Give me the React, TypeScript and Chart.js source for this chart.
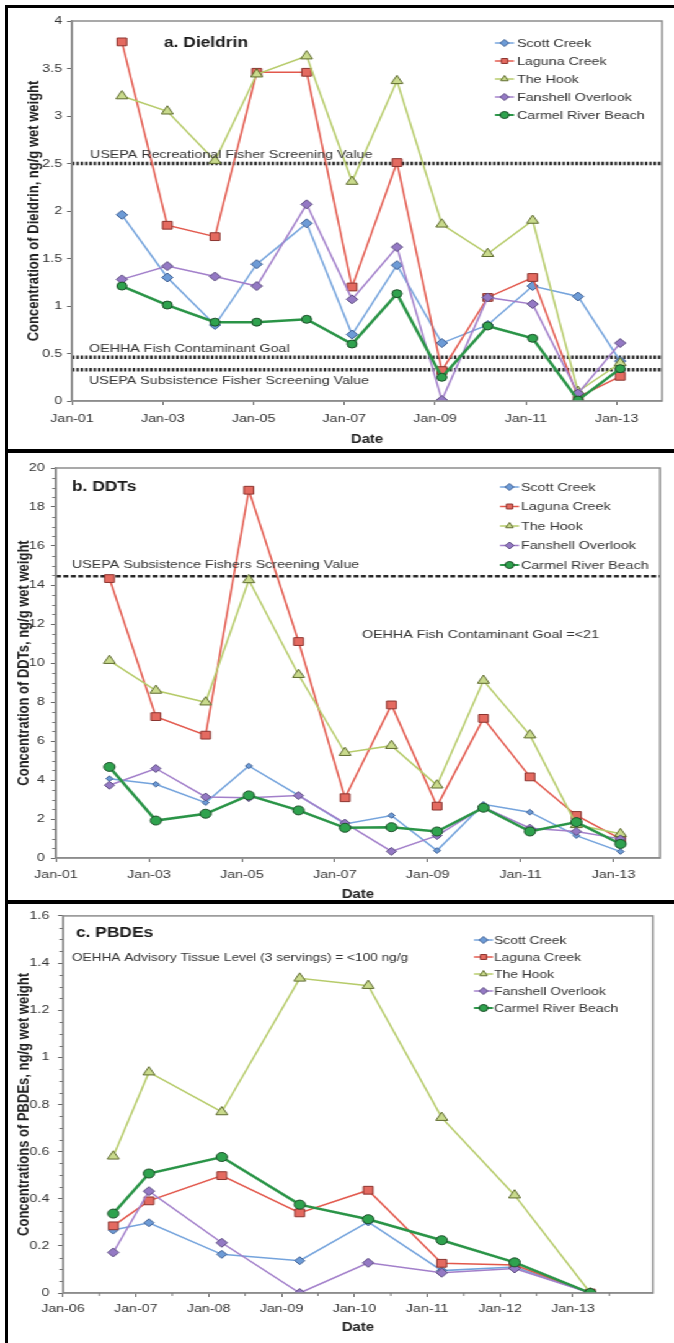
import React, { useEffect, useRef } from "react";
import { Chart, registerables } from "chart.js";

Chart.register(...registerables);

const STRETCH = 1.24;
const CANVAS_W = 544;
const FAMILY = "'Liberation Sans', Arial, Helvetica, sans-serif";

const siteNames = ["Scott Creek", "Laguna Creek", "The Hook", "Fanshell Overlook", "Carmel River Beach"];

// ---------- a. Dieldrin ----------
const dieldrinDates = [2002.1, 2003.1, 2004.15, 2005.07, 2006.17, 2007.17, 2008.16, 2009.15, 2010.16, 2011.15, 2012.15, 2013.08];
const dieldrinScott = [1.96, 1.3, 0.8, 1.44, 1.87, 0.7, 1.43, 0.61, 0.8, 1.21, 1.1, 0.42];
const dieldrinLaguna = [3.78, 1.85, 1.73, 3.46, 3.46, 1.2, 2.51, 0.32, 1.09, 1.3, 0.04, 0.26];
const dieldrinHook = [3.21, 3.05, 2.53, 3.44, 3.63, 2.31, 3.37, 1.86, 1.55, 1.9, 0.1, 0.4];
const dieldrinFanshell = [1.28, 1.42, 1.31, 1.21, 2.07, 1.07, 1.62, 0.01, 1.09, 1.02, 0.08, 0.61];
const dieldrinCarmel = [1.21, 1.01, 0.83, 0.83, 0.86, 0.6, 1.13, 0.25, 0.79, 0.66, 0.01, 0.34];
const dieldrinRefValues = [2.5, 0.46, 0.33];
const dieldrinRefLabels = [
  "USEPA Recreational Fisher Screening Value",
  "OEHHA Fish Contaminant Goal",
  "USEPA Subsistence Fisher Screening Value",
];
const dieldrinTickYears = [2001, 2003, 2005, 2007, 2009, 2011, 2013];

// ---------- b. DDTs ----------
const ddtDates = [2002.15, 2003.15, 2004.22, 2005.15, 2006.22, 2007.22, 2008.22, 2009.2, 2010.2, 2011.2, 2012.2, 2013.15];
const ddtScott = [4.07, 3.78, 2.84, 4.72, 3.21, 1.75, 2.18, 0.38, 2.75, 2.35, 1.15, 0.33];
const ddtLaguna = [14.33, 7.25, 6.3, 18.86, 11.1, 3.09, 7.85, 2.66, 7.16, 4.16, 2.18, 0.98];
const ddtHook = [10.12, 8.59, 7.99, 14.26, 9.4, 5.4, 5.76, 3.73, 9.1, 6.3, 1.7, 1.24];
const ddtFanshell = [3.73, 4.59, 3.13, 3.09, 3.2, 1.79, 0.34, 1.15, 2.61, 1.53, 1.36, 0.98];
const ddtCarmel = [4.67, 1.92, 2.27, 3.21, 2.44, 1.55, 1.58, 1.36, 2.58, 1.36, 1.84, 0.72];
const ddtRefValue = 14.45;
const ddtRefLabel = "USEPA Subsistence Fishers Screening Value";
const ddtGoalLabel = "OEHHA Fish Contaminant Goal =<21";
const ddtTickYears = [2001, 2003, 2005, 2007, 2009, 2011, 2013];

// ---------- c. PBDEs ----------
const pbdeDates = [2006.69, 2007.18, 2008.18, 2009.25, 2010.19, 2011.2, 2012.2, 2013.24];
const pbdeScott = [0.267, 0.298, 0.164, 0.137, 0.302, 0.095, 0.11, 0];
const pbdeLaguna = [0.285, 0.391, 0.498, 0.34, 0.436, 0.126, 0.119, 0];
const pbdeHook = [0.58, 0.937, 0.768, 1.335, 1.304, 0.744, 0.415, 0];
const pbdeFanshell = [0.172, 0.432, 0.213, 0, 0.128, 0.086, 0.104, 0];
const pbdeCarmel = [0.337, 0.507, 0.577, 0.375, 0.313, 0.224, 0.13, 0];
const pbdeNote = "OEHHA Advisory Tissue Level (3 servings) = <100 ng/g";
const pbdeTickYears = [2006, 2007, 2008, 2009, 2010, 2011, 2012, 2013];

// ---------- styles ----------
const STYLES = [
  { line: "#74a3dc", fill: "#6d9bd6", edge: "#3f5f93", shape: "rectRot", w: 1.5 },
  { line: "#e2584c", fill: "#e46a60", edge: "#8c3530", shape: "rect", w: 1.5 },
  { line: "#b6cb6a", fill: "#c9da8c", edge: "#5f6c30", shape: "triangle", w: 1.5 },
  { line: "#a27fca", fill: "#9479c4", edge: "#5c4c80", shape: "rectRot", w: 1.5 },
  { line: "#2a9447", fill: "#2fa24e", edge: "#1d4f2a", shape: "circle", w: 2.5 },
];

const tickLabel = (v: number) => "Jan-" + String(Math.round(v) % 100).padStart(2, "0");
const numLabel = (v: number) => String(parseFloat(Number(v).toFixed(3)));

function marker(ctx: CanvasRenderingContext2D, shape: string, x: number, y: number, r: number, fill: string, edge: string) {
  ctx.beginPath();
  if (shape === "rectRot") {
    ctx.moveTo(x, y - r);
    ctx.lineTo(x + r, y);
    ctx.lineTo(x, y + r);
    ctx.lineTo(x - r, y);
    ctx.closePath();
  } else if (shape === "rect") {
    const s = r * Math.SQRT1_2;
    ctx.rect(x - s, y - s, 2 * s, 2 * s);
  } else if (shape === "triangle") {
    ctx.moveTo(x, y - r);
    ctx.lineTo(x + 0.866 * r, y + 0.5 * r);
    ctx.lineTo(x - 0.866 * r, y + 0.5 * r);
    ctx.closePath();
  } else {
    ctx.arc(x, y, r, 0, Math.PI * 2);
  }
  ctx.fillStyle = fill;
  ctx.fill();
  ctx.lineWidth = 1;
  ctx.strokeStyle = edge;
  ctx.stroke();
}

type Note = { text: string; x: number; y: number; font: string; color?: string };

function makeDecor(p: any) {
  return {
    id: "decor",
    afterDraw(chart: any) {
      const { ctx, chartArea: a } = chart;
      const xs = chart.scales.x;
      const ys = chart.scales.y;
      ctx.save();
      ctx.strokeStyle = "#8d8d8d";
      ctx.lineWidth = 1.5;
      ctx.strokeRect(a.left, a.top, a.right - a.left, a.bottom - a.top);
      ctx.strokeStyle = "#777";
      ctx.lineWidth = 1;
      if (p.yMinor) {
        for (let v = 0; v <= p.yMax + 1e-9; v += p.yMinor) {
          const k = v / p.yStep;
          if (Math.abs(k - Math.round(k)) < 1e-6) continue;
          const py = Math.round(ys.getPixelForValue(v)) + 0.5;
          ctx.beginPath();
          ctx.moveTo(a.left - 3, py);
          ctx.lineTo(a.left, py);
          ctx.stroke();
        }
      }
      if (p.xMinor) {
        for (let v = p.xMin; v <= p.xMax + 1e-9; v += p.xMinor) {
          if (Math.abs(v - Math.round(v)) < 1e-6) continue;
          const px = xs.getPixelForValue(v);
          ctx.beginPath();
          ctx.moveTo(px, a.bottom);
          ctx.lineTo(px, a.bottom + 3);
          ctx.stroke();
        }
      }
      ctx.textBaseline = "middle";
      ctx.textAlign = "left";
      (p.notes as Note[]).forEach((n) => {
        ctx.font = n.font;
        ctx.fillStyle = n.color || "#333";
        ctx.fillText(n.text, n.x / STRETCH, n.y - p.canvasTop);
      });
      const L = p.legend;
      chart.data.datasets.forEach((ds: any, i: number) => {
        if (ds.isRef) return;
        const st = STYLES[i];
        const y = L.y0 + i * L.gap - p.canvasTop;
        const x0 = L.lineX / STRETCH;
        const x1 = x0 + L.len / STRETCH;
        ctx.strokeStyle = st.line;
        ctx.lineWidth = Math.min(st.w, 2);
        ctx.beginPath();
        ctx.moveTo(x0, y);
        ctx.lineTo(x1, y);
        ctx.stroke();
        marker(ctx, st.shape, (x0 + x1) / 2, y, L.r, st.fill, st.edge);
        ctx.font = L.font;
        ctx.fillStyle = "#333";
        ctx.fillText(ds.label, L.textX / STRETCH, y + 0.5);
      });
      ctx.restore();
    },
  };
}

function buildConfig(p: any) {
  const areaLeft = p.area.left / STRETCH;
  const areaRight = p.area.right / STRETCH;
  const areaTop = p.area.top - p.canvasTop;
  const areaBottom = p.area.bottom - p.canvasTop;
  const tickFont = { family: FAMILY, size: 11.5 };
  const datasets: any[] = p.series.map((vals: number[], i: number) => {
    const st = STYLES[i];
    return {
      label: siteNames[i],
      data: p.dates.map((d: number, j: number) => ({ x: d, y: vals[j] })),
      borderColor: st.line,
      backgroundColor: st.fill,
      borderWidth: st.w,
      pointStyle: st.shape,
      pointRadius: p.radii[i],
      pointBackgroundColor: st.fill,
      pointBorderColor: st.edge,
      pointBorderWidth: 1,
      order: 4 - i,
      tension: 0,
    };
  });
  p.refs.forEach((r: any) => {
    datasets.push({
      label: "",
      isRef: true,
      data: [
        { x: p.xMin, y: r.value },
        { x: p.xMax, y: r.value },
      ],
      borderColor: "#262626",
      borderWidth: r.width,
      borderDash: r.dash,
      pointRadius: 0,
      order: 10,
    });
  });
  const gridOpts = {
    display: true,
    drawOnChartArea: false,
    drawTicks: true,
    tickLength: 4,
    tickColor: "#666",
    color: "#666",
  };
  const borderOpts = { display: true, color: "#8d8d8d", width: 1.5 };
  return {
    type: "line",
    data: { datasets },
    options: {
      animation: false,
      responsive: false,
      devicePixelRatio: 1,
      layout: { padding: { left: 0, top: areaTop, right: CANVAS_W - areaRight, bottom: 0 } },
      plugins: { legend: { display: false }, tooltip: { enabled: false } },
      scales: {
        x: {
          type: "linear",
          min: p.xMin,
          max: p.xMax,
          afterBuildTicks: (s: any) => {
            s.ticks = p.xTicks.map((v: number) => ({ value: v }));
          },
          afterFit: (s: any) => {
            s.height = p.canvasHeight - areaBottom;
          },
          ticks: {
            callback: (v: number) => tickLabel(v),
            font: tickFont,
            color: "#333",
            padding: p.xTickPad,
            maxRotation: 0,
            autoSkip: false,
          },
          grid: gridOpts,
          border: borderOpts,
          title: {
            display: true,
            text: "Date",
            color: "#222",
            font: { family: FAMILY, size: 12, weight: "bold" },
            padding: { top: 0, bottom: Math.max(0, p.canvasHeight - (p.xTitleY - p.canvasTop) - 7.2) },
          },
        },
        y: {
          type: "linear",
          min: 0,
          max: p.yMax,
          afterFit: (s: any) => {
            s.width = areaLeft;
          },
          ticks: {
            stepSize: p.yStep,
            font: tickFont,
            color: "#333",
            padding: p.yTickPad,
            callback: (v: number) => numLabel(v),
          },
          grid: gridOpts,
          border: borderOpts,
          title: {
            display: true,
            text: p.yTitle,
            color: "#222",
            font: { family: FAMILY, size: 13, weight: "bold" },
            padding: { top: p.yTitleX / STRETCH - 7.8, bottom: 0 },
          },
        },
      },
    },
    plugins: [makeDecor(p)],
  };
}

const NOTE_FONT = `11.5px ${FAMILY}`;
const TITLE_FONT = `bold 14px ${FAMILY}`;

const panelA = {
  canvasTop: 0,
  canvasHeight: 450,
  area: { left: 72, right: 662, top: 21, bottom: 401 },
  xMin: 2001,
  xMax: 2014,
  xTicks: dieldrinTickYears,
  yMax: 4,
  yStep: 0.5,
  dates: dieldrinDates,
  series: [dieldrinScott, dieldrinLaguna, dieldrinHook, dieldrinFanshell, dieldrinCarmel],
  radii: [4.5, 5.5, 5.5, 4.5, 4],
  refs: dieldrinRefValues.map((v) => ({ value: v, dash: [2, 1.5], width: 3.5 })),
  yTitle: "Concentration of Dieldrin, ng/g wet weight",
  yTitleX: 34,
  yTickPad: 4,
  xTickPad: 7,
  xTitleY: 440,
  notes: [
    { text: "a. Dieldrin", x: 164, y: 43, font: TITLE_FONT, color: "#1a1a1a" },
    { text: dieldrinRefLabels[0], x: 90, y: 155, font: NOTE_FONT },
    { text: dieldrinRefLabels[1], x: 89, y: 349, font: NOTE_FONT },
    { text: dieldrinRefLabels[2], x: 89, y: 381, font: NOTE_FONT },
  ],
  legend: { lineX: 495, len: 19, textX: 517, y0: 43, gap: 18, r: 3.5, font: NOTE_FONT },
};

const panelB = {
  canvasTop: 450,
  canvasHeight: 452,
  area: { left: 56, right: 660, top: 468, bottom: 858 },
  xMin: 2001,
  xMax: 2014,
  xTicks: ddtTickYears,
  yMax: 20,
  yStep: 2,
  yMinor: 0.5,
  dates: ddtDates,
  series: [ddtScott, ddtLaguna, ddtHook, ddtFanshell, ddtCarmel],
  radii: [2.8, 5.5, 5.5, 4, 4.5],
  refs: [{ value: ddtRefValue, dash: [4, 2], width: 2.5 }],
  yTitle: "Concentration of DDTs, ng/g wet weight",
  yTitleX: 24,
  yTickPad: 5,
  xTickPad: 6,
  xTitleY: 895,
  notes: [
    { text: "b. DDTs", x: 72, y: 487, font: TITLE_FONT, color: "#1a1a1a" },
    { text: ddtRefLabel, x: 72, y: 565, font: NOTE_FONT },
    { text: ddtGoalLabel, x: 362, y: 635, font: NOTE_FONT },
  ],
  legend: { lineX: 500, len: 19, textX: 521, y0: 487, gap: 19.5, r: 3.5, font: NOTE_FONT },
};

const panelC = {
  canvasTop: 902,
  canvasHeight: 441,
  area: { left: 63, right: 653, top: 913, bottom: 1293 },
  xMin: 2006,
  xMax: 2014.1,
  xTicks: pbdeTickYears,
  xMinor: 0.5,
  yMax: 1.6,
  yStep: 0.2,
  yMinor: 0.05,
  dates: pbdeDates,
  series: [pbdeScott, pbdeLaguna, pbdeHook, pbdeFanshell, pbdeCarmel],
  radii: [4, 5.5, 5.5, 4.5, 4.5],
  refs: [],
  yTitle: "Concentrations of PBDEs, ng/g wet weight",
  yTitleX: 24,
  yTickPad: 7,
  xTickPad: 5,
  xTitleY: 1328,
  notes: [
    { text: "c. PBDEs", x: 76, y: 933, font: TITLE_FONT, color: "#1a1a1a" },
    { text: pbdeNote, x: 72, y: 958, font: `11px ${FAMILY}` },
  ],
  legend: { lineX: 474, len: 19, textX: 494, y0: 940, gap: 17, r: 3.5, font: `11.2px ${FAMILY}` },
};

const PANELS = [panelA, panelB, panelC];

export default function App() {
  const refs = [useRef<HTMLCanvasElement>(null), useRef<HTMLCanvasElement>(null), useRef<HTMLCanvasElement>(null)];

  useEffect(() => {
    const charts = PANELS.map((p, i) => new Chart(refs[i].current as HTMLCanvasElement, buildConfig(p) as any));
    return () => charts.forEach((c) => c.destroy());
  }, []);

  const bar = (style: any) => <div style={{ position: "absolute", background: "#000", zIndex: 5, ...style }} />;

  return (
    <div style={{ position: "absolute", left: 0, top: 0, width: 674, height: 1343, background: "#fff", overflow: "hidden" }}>
      <div
        style={{
          position: "absolute",
          left: 0,
          top: 0,
          width: CANVAS_W,
          height: 1343,
          transform: `scaleX(${STRETCH})`,
          transformOrigin: "0 0",
        }}
      >
        {PANELS.map((p, i) => (
          <canvas
            key={i}
            ref={refs[i]}
            width={CANVAS_W}
            height={p.canvasHeight}
            style={{ position: "absolute", left: 0, top: p.canvasTop, width: CANVAS_W, height: p.canvasHeight }}
          />
        ))}
      </div>
      {bar({ left: 5, top: 5, width: 669, height: 3 })}
      {bar({ left: 5, top: 449, width: 669, height: 4 })}
      {bar({ left: 5, top: 900, width: 669, height: 4 })}
      {bar({ left: 5, top: 5, width: 3, height: 1338 })}
    </div>
  );
}
